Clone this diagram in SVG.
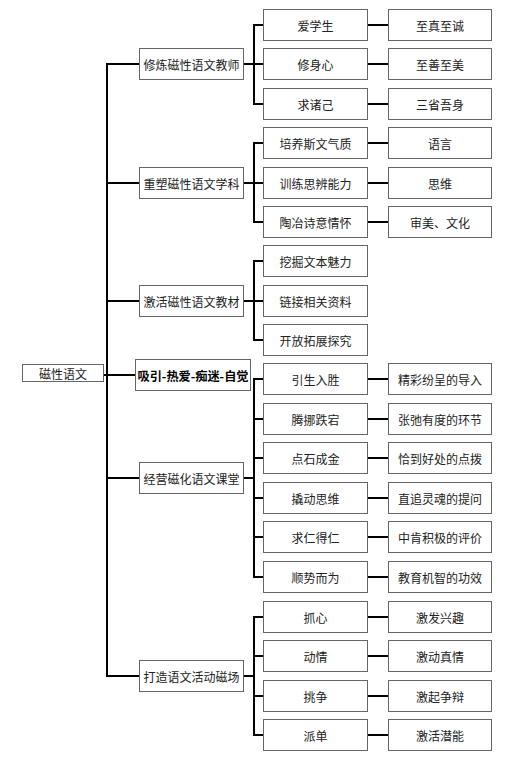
<svg xmlns="http://www.w3.org/2000/svg" width="524" height="762" viewBox="0 0 524 762">
<style>
.b{fill:#fff;stroke:#666;stroke-width:1}
.t{font-family:"Noto Sans CJK SC","Noto Sans",sans-serif;font-size:12px;fill:#222;text-anchor:middle;dominant-baseline:central}
.bold{font-weight:bold;fill:#000}
.c line{stroke:#000;stroke-width:2}
</style>
<rect width="524" height="762" fill="#fff"/>
<g class="c" id="connectors">
<line x1="104" y1="375" x2="135" y2="375"/>
<line x1="107" y1="63" x2="107" y2="677"/>
<line x1="107" y1="64" x2="139" y2="64"/>
<line x1="107" y1="183" x2="139" y2="183"/>
<line x1="107" y1="301" x2="139" y2="301"/>
<line x1="107" y1="478" x2="139" y2="478"/>
<line x1="107" y1="676" x2="139" y2="676"/>
<line x1="244" y1="64" x2="254" y2="64"/>
<line x1="254" y1="24" x2="254" y2="105"/>
<line x1="244" y1="183" x2="254" y2="183"/>
<line x1="254" y1="142" x2="254" y2="223"/>
<line x1="244" y1="301" x2="254" y2="301"/>
<line x1="254" y1="260" x2="254" y2="341"/>
<line x1="244" y1="478" x2="254" y2="478"/>
<line x1="254" y1="378" x2="254" y2="578"/>
<line x1="244" y1="676" x2="254" y2="676"/>
<line x1="254" y1="616" x2="254" y2="736"/>
<line x1="254" y1="25" x2="263" y2="25"/>
<line x1="254" y1="64" x2="263" y2="64"/>
<line x1="254" y1="104" x2="263" y2="104"/>
<line x1="254" y1="143" x2="263" y2="143"/>
<line x1="254" y1="183" x2="263" y2="183"/>
<line x1="254" y1="222" x2="263" y2="222"/>
<line x1="254" y1="261" x2="263" y2="261"/>
<line x1="254" y1="301" x2="263" y2="301"/>
<line x1="254" y1="340" x2="263" y2="340"/>
<line x1="254" y1="379" x2="263" y2="379"/>
<line x1="254" y1="419" x2="263" y2="419"/>
<line x1="254" y1="458" x2="263" y2="458"/>
<line x1="254" y1="498" x2="263" y2="498"/>
<line x1="254" y1="537" x2="263" y2="537"/>
<line x1="254" y1="577" x2="263" y2="577"/>
<line x1="254" y1="617" x2="263" y2="617"/>
<line x1="254" y1="656" x2="263" y2="656"/>
<line x1="254" y1="696" x2="263" y2="696"/>
<line x1="254" y1="735" x2="263" y2="735"/>
<line x1="367" y1="25" x2="388" y2="25"/>
<line x1="367" y1="64" x2="388" y2="64"/>
<line x1="367" y1="104" x2="388" y2="104"/>
<line x1="367" y1="143" x2="388" y2="143"/>
<line x1="367" y1="183" x2="388" y2="183"/>
<line x1="367" y1="222" x2="388" y2="222"/>
<line x1="367" y1="379" x2="388" y2="379"/>
<line x1="367" y1="419" x2="388" y2="419"/>
<line x1="367" y1="458" x2="388" y2="458"/>
<line x1="367" y1="498" x2="388" y2="498"/>
<line x1="367" y1="537" x2="388" y2="537"/>
<line x1="367" y1="577" x2="388" y2="577"/>
<line x1="367" y1="617" x2="388" y2="617"/>
<line x1="367" y1="656" x2="388" y2="656"/>
<line x1="367" y1="696" x2="388" y2="696"/>
<line x1="367" y1="735" x2="388" y2="735"/>
</g>
<g id="root"><rect class="b" x="22.5" y="364.5" width="81" height="17"/><text class="t" x="63" y="373">磁性语文</text></g>
<g id="l2a"><rect class="b" x="139.5" y="48.5" width="104" height="31"/><text class="t" x="191.5" y="64">修炼磁性语文教师</text></g>
<g id="l2b"><rect class="b" x="139.5" y="167.5" width="104" height="31"/><text class="t" x="191.5" y="183">重塑磁性语文学科</text></g>
<g id="l2c"><rect class="b" x="139.5" y="285.5" width="104" height="31"/><text class="t" x="191.5" y="301">激活磁性语文教材</text></g>
<g id="l2d"><rect class="b" x="135.5" y="359.5" width="115" height="31"/><text class="t bold" x="193" y="375" textLength="111" lengthAdjust="spacingAndGlyphs">吸引-热爱-痴迷-自觉</text></g>
<g id="l2e"><rect class="b" x="139.5" y="462.5" width="104" height="31"/><text class="t" x="191.5" y="478">经营磁化语文课堂</text></g>
<g id="l2f"><rect class="b" x="139.5" y="660.5" width="104" height="31"/><text class="t" x="191.5" y="676">打造语文活动磁场</text></g>
<g id="n0"><rect class="b" x="263.5" y="9.5" width="104" height="31"/><text class="t" x="315.5" y="25">爱学生</text></g>
<g id="n1"><rect class="b" x="263.5" y="48.5" width="104" height="31"/><text class="t" x="315.5" y="64">修身心</text></g>
<g id="n2"><rect class="b" x="263.5" y="88.5" width="104" height="31"/><text class="t" x="315.5" y="104">求诸己</text></g>
<g id="n3"><rect class="b" x="263.5" y="127.5" width="104" height="31"/><text class="t" x="315.5" y="143">培养斯文气质</text></g>
<g id="n4"><rect class="b" x="263.5" y="167.5" width="104" height="31"/><text class="t" x="315.5" y="183">训练思辨能力</text></g>
<g id="n5"><rect class="b" x="263.5" y="206.5" width="104" height="31"/><text class="t" x="315.5" y="222">陶冶诗意情怀</text></g>
<g id="n6"><rect class="b" x="263.5" y="245.5" width="104" height="31"/><text class="t" x="315.5" y="261">挖掘文本魅力</text></g>
<g id="n7"><rect class="b" x="263.5" y="285.5" width="104" height="31"/><text class="t" x="315.5" y="301">链接相关资料</text></g>
<g id="n8"><rect class="b" x="263.5" y="324.5" width="104" height="31"/><text class="t" x="315.5" y="340">开放拓展探究</text></g>
<g id="n9"><rect class="b" x="263.5" y="363.5" width="104" height="31"/><text class="t" x="315.5" y="379">引生入胜</text></g>
<g id="n10"><rect class="b" x="263.5" y="403.5" width="104" height="31"/><text class="t" x="315.5" y="419">腾挪跌宕</text></g>
<g id="n11"><rect class="b" x="263.5" y="442.5" width="104" height="31"/><text class="t" x="315.5" y="458">点石成金</text></g>
<g id="n12"><rect class="b" x="263.5" y="482.5" width="104" height="31"/><text class="t" x="315.5" y="498">撬动思维</text></g>
<g id="n13"><rect class="b" x="263.5" y="521.5" width="104" height="31"/><text class="t" x="315.5" y="537">求仁得仁</text></g>
<g id="n14"><rect class="b" x="263.5" y="561.5" width="104" height="31"/><text class="t" x="315.5" y="577">顺势而为</text></g>
<g id="n15"><rect class="b" x="263.5" y="601.5" width="104" height="31"/><text class="t" x="315.5" y="617">抓心</text></g>
<g id="n16"><rect class="b" x="263.5" y="640.5" width="104" height="31"/><text class="t" x="315.5" y="656">动情</text></g>
<g id="n17"><rect class="b" x="263.5" y="680.5" width="104" height="31"/><text class="t" x="315.5" y="696">挑争</text></g>
<g id="n18"><rect class="b" x="263.5" y="719.5" width="104" height="31"/><text class="t" x="315.5" y="735">派单</text></g>
<g id="m0"><rect class="b" x="388.5" y="9.5" width="103" height="31"/><text class="t" x="440" y="25">至真至诚</text></g>
<g id="m1"><rect class="b" x="388.5" y="48.5" width="103" height="31"/><text class="t" x="440" y="64">至善至美</text></g>
<g id="m2"><rect class="b" x="388.5" y="88.5" width="103" height="31"/><text class="t" x="440" y="104">三省吾身</text></g>
<g id="m3"><rect class="b" x="388.5" y="127.5" width="103" height="31"/><text class="t" x="440" y="143">语言</text></g>
<g id="m4"><rect class="b" x="388.5" y="167.5" width="103" height="31"/><text class="t" x="440" y="183">思维</text></g>
<g id="m5"><rect class="b" x="388.5" y="206.5" width="103" height="31"/><text class="t" x="440" y="222">审美、文化</text></g>
<g id="m9"><rect class="b" x="388.5" y="363.5" width="103" height="31"/><text class="t" x="440" y="379">精彩纷呈的导入</text></g>
<g id="m10"><rect class="b" x="388.5" y="403.5" width="103" height="31"/><text class="t" x="440" y="419">张弛有度的环节</text></g>
<g id="m11"><rect class="b" x="388.5" y="442.5" width="103" height="31"/><text class="t" x="440" y="458">恰到好处的点拨</text></g>
<g id="m12"><rect class="b" x="388.5" y="482.5" width="103" height="31"/><text class="t" x="440" y="498">直追灵魂的提问</text></g>
<g id="m13"><rect class="b" x="388.5" y="521.5" width="103" height="31"/><text class="t" x="440" y="537">中肯积极的评价</text></g>
<g id="m14"><rect class="b" x="388.5" y="561.5" width="103" height="31"/><text class="t" x="440" y="577">教育机智的功效</text></g>
<g id="m15"><rect class="b" x="388.5" y="601.5" width="103" height="31"/><text class="t" x="440" y="617">激发兴趣</text></g>
<g id="m16"><rect class="b" x="388.5" y="640.5" width="103" height="31"/><text class="t" x="440" y="656">激动真情</text></g>
<g id="m17"><rect class="b" x="388.5" y="680.5" width="103" height="31"/><text class="t" x="440" y="696">激起争辩</text></g>
<g id="m18"><rect class="b" x="388.5" y="719.5" width="103" height="31"/><text class="t" x="440" y="735">激活潜能</text></g>
</svg>
